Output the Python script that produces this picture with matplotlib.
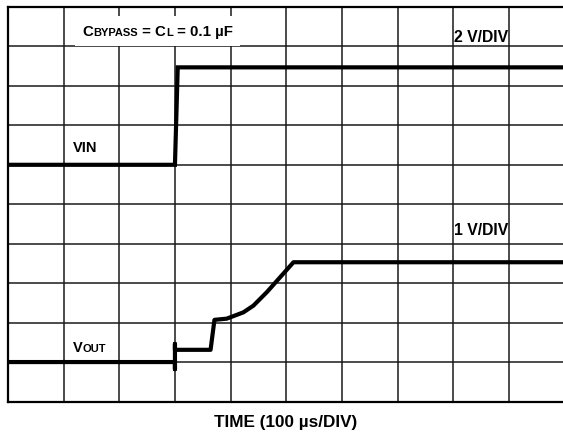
import numpy as np
import matplotlib
matplotlib.use('Agg')
from matplotlib import pyplot as plt
from matplotlib.offsetbox import TextArea, HPacker, AnnotationBbox

# scope traces, in divisions (x: 0..10, y: 0..10 from bottom)
vin_t = [0.0, 3.0, 3.05, 10.0]
vin_v = [6.0, 6.0, 8.47, 8.47]

vout_t = [0.0, 3.0, 3.0, 3.0, 3.0, 3.64, 3.71, 3.93, 4.23, 4.41, 4.65, 4.89, 5.13, 10.0]
vout_v = [1.0, 1.0, 0.82, 1.46, 1.31, 1.31, 2.07, 2.10, 2.26, 2.43, 2.77, 3.15, 3.53, 3.53]

FONT = ['Liberation Sans Narrow', 'Liberation Sans', 'DejaVu Sans']

fig = plt.figure(figsize=(5.63, 4.39), dpi=100)
ax = fig.add_axes([8/563, 36.5/439, 556.5/563, 394.5/439])
ax.set_xlim(0, 10)
ax.set_ylim(0, 10)
ax.set_xticks(range(11))
ax.set_yticks(range(11))
ax.tick_params(length=0, labelbottom=False, labelleft=False)
ax.grid(True, color='#1a1a1a', linewidth=1.1)
for s in ax.spines.values():
    s.set_linewidth(1.6)
    s.set_color('black')

ax.plot(vin_t, vin_v, color='black', linewidth=3.0, solid_joinstyle='miter', zorder=3)
ax.plot(vout_t, vout_v, color='black', linewidth=3.0, solid_joinstyle='round', zorder=3)

# labels
ax.text(1.17, 6.35, 'VIN', fontsize=10.5, fontweight='bold', family=FONT, zorder=4)

vout_lbl = HPacker(children=[TextArea('V', textprops=dict(fontsize=10.5, fontweight='bold', family=FONT)),
                             TextArea('OUT', textprops=dict(fontsize=8, fontweight='bold', family=FONT))],
                   align='baseline', pad=0, sep=0)
ab = AnnotationBbox(vout_lbl, (1.17, 1.27), box_alignment=(0, 0.2), frameon=False, zorder=4)
ax.add_artist(ab)

big = dict(fontsize=10.8, fontweight='bold', family=FONT)
small = dict(fontsize=8, fontweight='bold', family=FONT)
cap = HPacker(children=[TextArea('C', textprops=big), TextArea('BYPASS', textprops=small),
                        TextArea(' = C', textprops=big), TextArea('L', textprops=small),
                        TextArea(' = 0.1 µF', textprops=big)],
              align='baseline', pad=0, sep=0)
ab = AnnotationBbox(cap, (2.69, 9.39), frameon=True, pad=0.55, zorder=4,
                    bboxprops=dict(facecolor='white', edgecolor='none'))
ax.add_artist(ab)

ax.text(8.01, 9.14, '2 V/DIV', fontsize=11.3, fontweight='bold', family=FONT, zorder=4)
ax.text(8.01, 4.25, '1 V/DIV', fontsize=11.3, fontweight='bold', family=FONT, zorder=4)

fig.text(286/563, 1 - 423/439, 'TIME (100 µs/DIV)', ha='center', va='center',
         fontsize=12.3, fontweight='bold', family=FONT)

fig.savefig('out.png', dpi=100)
